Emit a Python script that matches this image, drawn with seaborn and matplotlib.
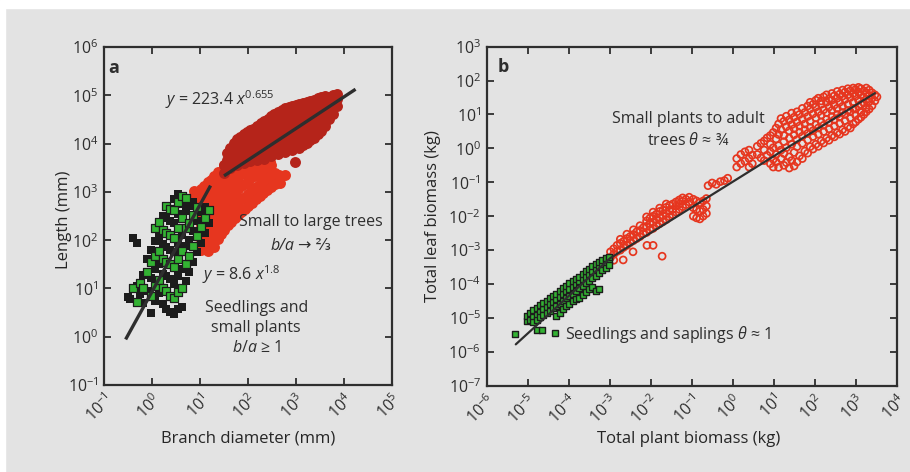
import numpy as np
import pandas as pd
import matplotlib.pyplot as plt
import seaborn as sns
from matplotlib.lines import Line2D
from matplotlib.patches import Rectangle

# All values are log10
# Panel a: branch diameter (mm) vs length (mm)
large_x = [1.50, 1.57, 1.63, 1.70, 1.77, 1.83, 1.91, 1.97, 2.04, 2.11, 2.19, 2.26, 2.33, 2.41,
           2.48, 2.55, 2.63, 2.70, 2.77, 2.85, 2.92, 2.98, 3.00, 3.07, 3.15, 3.22, 3.30, 3.37,
           3.45, 3.53, 3.61, 3.69, 3.77, 3.85]
large_y = [[3.40, 3.56], [3.47, 3.66, 3.80], [3.50, 3.74, 3.90], [3.57, 3.69, 3.86, 4.02],
           [3.55, 3.78, 3.97, 4.10], [3.63, 3.84, 4.03, 4.13], [3.60, 3.75, 3.93, 4.11, 4.20],
           [3.66, 3.89, 4.06, 4.25], [3.63, 3.81, 3.98, 4.17, 4.28], [3.70, 3.92, 4.09, 4.30],
           [3.66, 3.84, 4.03, 4.21, 4.37], [3.74, 3.97, 4.14, 4.42], [3.69, 3.88, 4.08, 4.29, 4.47],
           [3.77, 4.00, 4.20, 4.38, 4.52], [3.74, 3.93, 4.12, 4.33, 4.57],
           [3.82, 4.05, 4.26, 4.46, 4.61], [3.79, 3.98, 4.18, 4.39, 4.56, 4.66],
           [3.86, 4.09, 4.30, 4.51, 4.70], [3.83, 4.03, 4.24, 4.44, 4.62, 4.73],
           [3.90, 4.14, 4.35, 4.55, 4.75], [3.87, 4.08, 4.28, 4.49, 4.67, 4.77], [3.62],
           [3.94, 4.19, 4.40, 4.60, 4.79], [3.91, 4.12, 4.33, 4.53, 4.71, 4.82],
           [3.98, 4.24, 4.45, 4.64, 4.84], [4.02, 4.17, 4.38, 4.57, 4.75, 4.87],
           [4.08, 4.30, 4.50, 4.68, 4.89], [4.12, 4.36, 4.55, 4.73, 4.91],
           [4.20, 4.42, 4.62, 4.80, 4.94], [4.27, 4.48, 4.67, 4.85, 4.96],
           [4.37, 4.56, 4.74, 4.90, 4.98], [4.50, 4.66, 4.82, 4.97], [4.62, 4.78, 4.93, 5.01],
           [4.78, 4.92, 5.03]]

small_x = [0.88, 0.95, 1.02, 1.09, 1.16, 1.23, 1.30, 1.37, 1.44, 1.51, 1.58, 1.65, 1.72, 1.79,
           1.86, 1.93, 2.00, 2.08, 2.16, 2.24, 2.32, 2.40, 2.46, 2.48, 2.56, 2.64, 2.67, 2.77]
small_y = [[2.88, 3.02], [1.88, 2.18, 2.47, 2.74, 2.96], [1.80, 2.04, 2.33, 2.60, 2.88, 3.06],
           [1.92, 2.20, 2.47, 2.73, 2.98, 3.12], [1.78, 2.06, 2.34, 2.61, 2.87, 3.10, 3.20],
           [1.93, 2.21, 2.48, 2.75, 3.00, 3.24], [1.86, 2.10, 2.37, 2.64, 2.90, 3.15, 3.32],
           [2.02, 2.27, 2.53, 2.79, 3.04, 3.28, 3.42], [2.12, 2.40, 2.66, 2.92, 3.18, 3.40],
           [2.22, 2.48, 2.73, 3.00, 3.26, 3.47, 3.56], [2.32, 2.58, 2.84, 3.10, 3.35, 3.52],
           [2.38, 2.63, 2.90, 3.16, 3.42, 3.60], [2.45, 2.72, 2.98, 3.24, 3.50, 3.66],
           [2.52, 2.78, 3.05, 3.30, 3.55], [2.58, 2.85, 3.12, 3.38, 3.60],
           [2.64, 2.90, 3.17, 3.42, 3.58], [2.70, 2.96, 3.22, 3.46, 3.62], [2.78, 3.04, 3.30, 3.52],
           [2.85, 3.10, 3.35, 3.56], [2.92, 3.17, 3.41, 3.60], [2.98, 3.23, 3.47, 3.62],
           [3.04, 3.29, 3.52], [3.62], [3.10, 3.34, 3.55], [3.16, 3.40], [3.20, 3.36], [3.18], [3.35]]

seed_black_x = [-0.50, -0.46, -0.40, -0.31, -0.25, -0.18, -0.10, -0.02, 0.06, 0.14, 0.22, 0.30,
                0.38, 0.46, 0.54, 0.62, 0.70, 0.78, 0.86, 0.94, 1.02, 1.10, 1.18]
seed_black_y = [[0.82], [0.78], [2.05], [1.94, 1.05], [0.88], [0.70, 1.28], [0.95, 1.60],
                [0.50, 1.22, 1.80], [0.75, 1.40, 1.98], [0.90, 1.50, 2.08], [0.68, 1.30, 1.92, 2.50],
                [0.58, 1.25, 1.85, 2.45], [0.52, 1.20, 1.80, 2.40], [0.48, 1.10, 1.75, 2.35, 2.85],
                [0.58, 1.25, 1.95, 2.55, 2.95], [0.62, 1.40, 2.10, 2.75], [1.15, 1.88, 2.60],
                [1.35, 2.00, 2.70], [1.55, 2.20, 2.80], [1.75, 2.40], [1.95, 2.58], [2.15, 2.68], [2.35]]
seed_green_x = [-0.40, -0.31, -0.25, -0.18, -0.10, -0.02, 0.06, 0.14, 0.22, 0.30, 0.38, 0.46,
                0.54, 0.62, 0.70, 0.78, 0.86, 0.94, 1.02, 1.10, 1.18]
seed_green_y = [[1.00], [0.72], [1.12], [1.00], [1.35], [0.85, 1.55], [1.05, 1.68, 2.25],
                [1.18, 1.78, 2.38], [1.00, 1.62, 2.22], [0.95, 1.55, 2.15, 2.70],
                [0.85, 1.50, 2.10, 2.65], [0.80, 1.45, 2.05, 2.62], [0.92, 1.60, 2.25, 2.80],
                [1.00, 1.78, 2.45, 2.92], [1.50, 2.25, 2.88], [1.68, 2.35], [1.88, 2.52],
                [2.08, 2.68], [2.28], [2.45], [2.62]]

# fitted lines of panel a (coefficients as printed, x range of each drawn line)
fit_trees = (223.4, 0.655, 1.50, 4.24)
fit_seedlings = (8.6, 1.8, -0.55, 1.22)

# Panel b: total plant biomass (kg) vs total leaf biomass (kg)
plants_x = [-2.98, -2.90, -2.82, -2.74, -2.67, -2.66, -2.58, -2.50, -2.43, -2.42, -2.34, -2.26,
            -2.18, -2.10, -2.09, -2.02, -1.94, -1.86, -1.78, -1.72, -1.70, -1.62, -1.54, -1.46,
            -1.38, -1.30, -1.22, -1.14, -1.06, -0.96, -0.88, -0.80, -0.72, -0.64, -0.60, -0.50,
            -0.40, -0.30, -0.20, -0.12, 0.10, 0.20, 0.30, 0.40, 0.48,
            0.60, 0.69, 0.77, 0.84, 0.92, 0.99, 1.06, 1.12, 1.18, 1.25, 1.31, 1.38, 1.44, 1.50,
            1.57, 1.63, 1.70, 1.76, 1.83, 1.89, 1.96, 2.03, 2.09, 2.16, 2.22, 2.29, 2.35, 2.42,
            2.48, 2.55, 2.61, 2.68, 2.74, 2.81, 2.87, 2.94, 3.00, 3.07, 3.13, 3.20, 3.26, 3.33,
            3.40, 3.47, 3.52]
plants_y = [[-3.22, -3.05], [-3.12, -2.96, -3.30], [-3.04, -2.86], [-3.00, -2.80, -2.68], [-3.29],
            [-2.92, -2.74], [-2.86, -2.66, -2.53], [-2.78, -2.60], [-3.05], [-2.72, -2.54, -2.40],
            [-2.66, -2.46], [-2.60, -2.42, -2.28], [-2.52, -2.34], [-2.48, -2.30, -2.14, -2.02],
            [-2.86], [-2.40, -2.22, -2.06], [-2.36, -2.18, -2.00, -1.88, -2.86],
            [-2.28, -2.10, -1.94], [-2.22, -2.04, -1.86, -1.76], [-3.18], [-2.16, -1.98, -1.82],
            [-2.10, -1.92, -1.74, -1.64], [-2.02, -1.84, -1.68], [-1.96, -1.80, -1.64],
            [-1.88, -1.70, -1.58], [-1.80, -1.64, -1.52], [-1.72, -1.56, -1.46], [-1.66, -1.50],
            [-1.58, -1.44], [-1.50, -1.75, -2.00], [-1.55, -1.80, -2.05], [-1.60, -1.85, -2.08],
            [-1.55, -1.80, -2.00], [-1.48, -1.70, -1.92], [-1.10], [-1.02], [-1.06], [-0.98],
            [-0.95], [-0.88], [-0.55, -0.30], [-0.45, -0.18], [-0.38, -0.10], [-0.30, -0.05, -0.55],
            [-0.20, -0.45],
            [-0.18, 0.06], [-0.28, 0.15], [-0.36, -0.05, 0.22], [-0.20, 0.31],
            [-0.45, -0.10, 0.12, 0.38], [-0.55, -0.32, 0.02, 0.47], [-0.40, -0.18, 0.28, 0.60],
            [-0.56, 0.08, 0.41, 0.72], [-0.30, -0.05, 0.55, 0.88], [-0.50, -0.15, 0.20, 0.38, 0.80],
            [-0.42, 0.02, 0.64, 0.95], [-0.58, -0.25, 0.30, 0.52, 0.84], [-0.36, 0.12, 0.70, 1.04],
            [-0.52, -0.12, 0.40, 0.58, 0.92], [-0.40, 0.05, 0.26, 0.78, 1.08],
            [-0.22, 0.48, 0.66, 1.00], [-0.30, 0.15, 0.36, 0.86, 1.18], [-0.08, 0.55, 0.72, 1.06],
            [-0.14, 0.25, 0.44, 0.94, 1.25], [0.05, 0.62, 0.80, 1.16, 1.36],
            [-0.02, 0.35, 0.52, 1.02, 1.30], [0.12, 0.70, 0.90, 1.22, 1.42],
            [0.06, 0.42, 0.60, 1.08, 1.48], [0.22, 0.78, 0.98, 1.30, 1.40],
            [0.16, 0.50, 0.68, 1.14, 1.52], [0.30, 0.86, 1.05, 1.36, 1.58],
            [0.24, 0.58, 0.76, 1.22, 1.46], [0.38, 0.94, 1.12, 1.42, 1.62],
            [0.34, 0.66, 0.84, 1.28, 1.55], [0.46, 1.00, 1.18, 1.48, 1.68],
            [0.42, 0.74, 0.92, 1.36, 1.60], [0.55, 1.06, 1.24, 1.54, 1.72],
            [0.50, 0.82, 1.00, 1.44, 1.66], [0.64, 1.12, 1.30, 1.58, 1.76],
            [0.60, 0.90, 1.08, 1.50, 1.70], [0.72, 1.18, 1.36, 1.62, 1.78],
            [0.78, 0.98, 1.16, 1.54, 1.74], [0.86, 1.24, 1.42, 1.66, 1.80],
            [0.92, 1.06, 1.30, 1.58, 1.76], [1.00, 1.34, 1.50, 1.70],
            [1.08, 1.20, 1.44, 1.64, 1.78], [1.16, 1.38, 1.56, 1.72], [1.26, 1.48, 1.64],
            [1.40, 1.58], [1.52]]

saplings_x = [-5.31, -5.02, -4.94, -4.86, -4.78, -4.70, -4.65, -4.62, -4.54, -4.46, -4.38, -4.30,
              -4.22, -4.14, -4.06, -3.98, -3.90, -3.82, -3.74, -3.66, -3.58, -3.50, -3.42, -3.34,
              -3.26, -3.18, -3.10, -3.02]
saplings_y = [[-5.48], [-5.10, -4.95], [-5.05, -4.85], [-4.98, -4.78, -5.12], [-4.90, -4.70, -5.05, -5.36],
              [-4.82, -4.62, -4.98], [-5.36], [-4.75, -4.55, -4.92], [-4.68, -4.50, -4.85],
              [-4.60, -4.42, -4.80], [-4.52, -4.35, -4.72], [-4.45, -4.28, -4.65, -4.95],
              [-4.38, -4.20, -4.58, -4.85], [-4.30, -4.12, -4.50, -4.75], [-4.22, -4.05, -4.42, -4.65],
              [-4.15, -3.98, -4.35, -4.58], [-4.08, -3.92, -4.28, -4.50], [-4.00, -3.85, -4.20, -4.45],
              [-3.92, -3.78, -4.12, -4.40], [-3.85, -3.70, -4.05, -4.32], [-3.78, -3.62, -3.98, -4.25],
              [-3.70, -3.55, -3.90, -4.15], [-3.62, -3.48, -3.82, -4.10], [-3.55, -3.40, -3.75, -4.22],
              [-3.48, -3.35, -3.68, -4.15], [-3.40, -3.28, -3.60], [-3.35, -3.22, -3.52],
              [-3.28, -3.20, -3.45]]

# broken fit line of panel b (slope 1, then 3/4)
fit_b_x = [-5.29, -2.99, 3.47]
fit_b_y = [-5.78, -3.24, 1.63]


def expand(xs, cols):
    x = [xc for xc, col in zip(xs, cols) for _ in col]
    y = [v for col in cols for v in col]
    return pd.DataFrame({'x': 10.0 ** np.array(x), 'y': 10.0 ** np.array(y)})


bg = '#e3e3e3'
ink = '#2e2e2e'
red = '#e6361f'
dark_red = '#b5241a'
green = '#33b233'

sns.set_theme(style='ticks')
plt.rcParams['font.family'] = ['Open Sans', 'DejaVu Sans']
plt.rcParams['mathtext.fontset'] = 'custom'
plt.rcParams['mathtext.rm'] = 'Open Sans'
plt.rcParams['mathtext.it'] = 'Open Sans:italic'
plt.rcParams['text.color'] = ink

fig = plt.figure(figsize=(9.1, 4.72), dpi=100, facecolor=bg)
fig.patches.append(Rectangle((0, 1 - 8 / 472), 1, 8 / 472, transform=fig.transFigure,
                             color='white', zorder=0))
fig.patches.append(Rectangle((0, 0), 5 / 910, 1, transform=fig.transFigure,
                             color='white', zorder=0))
ax1 = fig.add_axes([0.1143, 0.1843, 0.3165, 0.716])
ax2 = fig.add_axes([0.5348, 0.1828, 0.4505, 0.7183])

# ---- panel a
sns.scatterplot(data=expand(small_x, small_y), x='x', y='y', ax=ax1, color=red,
                s=62, linewidth=0, zorder=2)
sns.scatterplot(data=expand(large_x, large_y), x='x', y='y', ax=ax1, color=dark_red,
                s=62, linewidth=0, zorder=3)
sns.scatterplot(data=expand(seed_black_x, seed_black_y), x='x', y='y', ax=ax1, color='#1c1c1c',
                marker='s', s=28, linewidth=0, zorder=4)
sns.scatterplot(data=expand(seed_green_x, seed_green_y), x='x', y='y', ax=ax1, color=green,
                marker='s', s=28, edgecolor='#1c1c1c', linewidth=0.9, zorder=4)

for a, b, x0, x1 in (fit_trees, fit_seedlings):
    xs = 10.0 ** np.array([x0, x1])
    ax1.plot(xs, a * xs ** b, color=ink, lw=2.4, zorder=5, solid_capstyle='butt')

ax1.set_xscale('log')
ax1.set_yscale('log')
ax1.set_xlim(1e-1, 1e5)
ax1.set_ylim(1e-1, 1e6)
ax1.set_xticks([10.0 ** k for k in range(-1, 6)])
ax1.set_yticks([10.0 ** k for k in range(-1, 7)])
ax1.set_xlabel('Branch diameter (mm)')
ax1.set_ylabel('Length (mm)')
ax1.yaxis.set_label_coords(-0.112, 0.49)
ax1.xaxis.set_label_coords(0.5, -0.135)

ax1.text(10 ** -0.8, 10 ** 5.57, 'a', fontsize=13, fontweight='bold', ha='center', va='center')
ax1.text(10 ** 1.42, 10 ** 4.92, r'$y$ = 223.4 $x^{\mathrm{0.655}}$', fontsize=11.5,
         ha='center', va='center')
ax1.text(10 ** 3.31, 10 ** 2.38, 'Small to large trees', fontsize=11.5, ha='center', va='center')
ax1.text(10 ** 2.96, 10 ** 1.88, 'b/a', fontsize=11.5, fontstyle='italic', ha='right', va='center')
ax1.annotate('→ ⅔', xy=(10 ** 2.96, 10 ** 1.88), xytext=(3, 0), textcoords='offset points',
             fontsize=11.5, ha='left', va='center', color=ink)
ax1.text(10 ** 1.04, 10 ** 1.28, r'$y$ = 8.6 $x^{\mathrm{1.8}}$', fontsize=11.5, ha='left', va='center')
ax1.text(10 ** 2.17, 10 ** 0.18, 'Seedlings and\nsmall plants\n' + r'$b/a$ ≥ 1', fontsize=11.5,
         ha='center', va='center', linespacing=1.3)

# ---- panel b
sns.scatterplot(data=expand(plants_x, plants_y), x='x', y='y', ax=ax2, marker='o', s=25,
                facecolor='none', edgecolor=red, linewidth=1.25, zorder=2)
sns.scatterplot(data=expand(saplings_x, saplings_y), x='x', y='y', ax=ax2, marker='s', s=22,
                color=green, edgecolor='#1c1c1c', linewidth=1.0, zorder=3)
ax2.plot(10.0 ** np.array(fit_b_x), 10.0 ** np.array(fit_b_y), color=ink, lw=1.6, zorder=4)

ax2.set_xscale('log')
ax2.set_yscale('log')
ax2.set_xlim(1e-6, 1e4)
ax2.set_ylim(1e-7, 1e3)
ax2.set_xticks([10.0 ** k for k in range(-6, 5)])
ax2.set_yticks([10.0 ** k for k in range(-7, 4)])
ax2.set_xlabel('Total plant biomass (kg)')
ax2.set_ylabel('Total leaf biomass (kg)')
ax2.yaxis.set_label_coords(-0.112, 0.5)
ax2.xaxis.set_label_coords(0.493, -0.135)

ax2.text(10 ** -5.6, 10 ** 2.4, 'b', fontsize=13, fontweight='bold', ha='center', va='center')
ax2.text(10 ** -1.09, 10 ** 0.54, 'Small plants to adult\ntrees ' + r'$\theta$ ≈ ¾', fontsize=11.5,
         ha='center', va='center', linespacing=1.4)
handle = Line2D([], [], marker='s', ls='none', markersize=5, markerfacecolor=green,
                markeredgecolor='#1c1c1c', markeredgewidth=1.0)
ax2.legend(handles=[handle], labels=[r'Seedlings and saplings $\theta$ ≈ 1'], loc='center left',
           bbox_to_anchor=(0.156, 0.1525), frameon=False, fontsize=11.5, handlelength=0.6,
           handletextpad=0.3, borderpad=0, borderaxespad=0)

for ax in (ax1, ax2):
    ax.set_facecolor(bg)
    ax.minorticks_off()
    ax.tick_params(which='major', direction='in', length=5, width=1.3, color=ink,
                   top=True, right=True, labelsize=11.5, labelcolor=ink, pad=4)
    for sp in ax.spines.values():
        sp.set_visible(True)
        sp.set_color(ink)
        sp.set_linewidth(1.6)
    ax.xaxis.label.set_size(12)
    ax.yaxis.label.set_size(12)
    for lab in ax.get_xticklabels():
        lab.set_rotation(45)
        lab.set_ha('right')
        lab.set_rotation_mode('anchor')

fig.savefig('out.png', dpi=100, facecolor=bg)
